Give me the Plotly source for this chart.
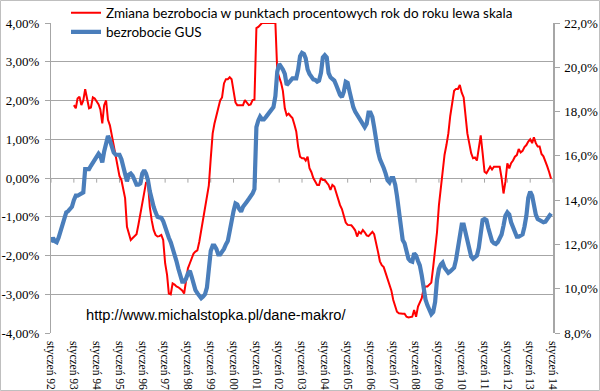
import pandas as pd
import plotly.graph_objects as go

# ---------------- data ----------------
months = pd.date_range("1992-01-01", periods=264, freq="MS")
months_change = months[12:]

# bezrobocie GUS (%), monthly Jan 1992 - Dec 2013 (right axis)
unemp_gus = [
    12.1, 12.3, 12.15, 12.1, 12.3, 12.6, 13.0, 13.3, 13.45, 13.5, 13.6, 13.7,      # 1992
    14.0, 14.2, 14.2, 14.25, 14.3, 14.35, 15.4, 15.4, 15.4, 15.55, 15.7, 15.8,     # 1993
    16.0, 16.1, 16.0, 15.7, 16.2, 16.6, 16.9, 16.7, 16.4, 16.15, 16.05, 16.05,     # 1994
    16.05, 15.85, 15.5, 15.1, 14.85, 15.15, 15.2, 15.1, 14.85, 14.7, 14.7, 14.75,  # 1995
    15.2, 15.35, 15.2, 14.9, 14.4, 14.0, 13.7, 13.45, 13.25, 13.22, 13.2, 13.05,   # 1996
    12.75, 12.5, 12.3, 12.1, 11.85, 11.45, 11.25, 10.9, 10.5, 10.32, 10.32, 10.45, # 1997
    10.7, 10.8, 10.55, 10.2, 9.94, 9.8, 9.7, 9.57, 9.65, 9.75, 10.05, 10.9,        # 1998
    11.7, 11.95, 11.95, 11.8, 11.55, 11.55, 11.67, 11.8, 12.0, 12.15, 12.6, 13.2,  # 1999
    13.5, 13.85, 13.8, 13.6, 13.48, 13.7, 13.85, 13.93, 14.05, 14.15, 14.3, 14.5,  # 2000
    17.3, 17.6, 17.77, 17.65, 17.65, 17.75, 17.85, 17.95, 18.05, 18.2, 18.7, 19.8, # 2001
    20.15, 20.05, 19.9, 19.7, 19.2, 19.3, 19.4, 19.5, 19.5, 19.5, 19.9, 20.5,      # 2002
    20.65, 20.6, 20.4, 19.9, 19.7, 19.6, 19.45, 19.43, 19.35, 19.4, 19.75, 20.45,  # 2003
    20.55, 20.45, 19.75, 19.55, 19.5, 19.4, 19.2, 18.95, 18.75, 18.65, 18.9, 19.35,# 2004
    19.3, 18.9, 18.5, 18.2, 18.0, 17.85, 17.7, 17.6, 17.47, 17.3, 17.45, 17.95,    # 2005
    17.95, 17.75, 17.3, 16.6, 16.2, 15.85, 15.7, 15.45, 15.2, 14.9, 14.8, 15.0,    # 2006
    15.0, 14.7, 14.2, 13.4, 12.7, 12.2, 12.05, 11.65, 11.35, 11.25, 11.22, 11.6,   # 2007
    11.5, 11.25, 11.05, 10.6, 9.9, 9.5, 9.25, 9.0, 8.85, 8.95, 9.4, 10.4,          # 2008
    10.9, 11.1, 11.18, 10.95, 10.8, 10.72, 10.78, 10.85, 10.95, 11.3, 11.9, 12.55, # 2009
    12.9, 12.9, 12.55, 12.05, 11.7, 11.45, 11.35, 11.4, 11.5, 11.85, 12.7, 13.1,   # 2010
    13.15, 13.1, 12.75, 12.45, 12.15, 12.05, 12.02, 12.1, 12.25, 12.45, 12.85, 13.3,  # 2011
    13.45, 13.35, 13.0, 12.75, 12.5, 12.35, 12.35, 12.38, 12.45, 12.8, 13.3, 14.1,    # 2012
    14.38, 14.2, 13.7, 13.35, 13.15, 13.1, 13.02, 13.0, 13.03, 13.15, 13.3, 13.4,     # 2013
]

# Zmiana bezrobocia r/r (pp), monthly Jan 1993 - Dec 2013 (left axis)
change_yoy = [
    1.88, 1.80, 2.05, 2.1, 1.88, 2.0, 2.29, 2.0, 1.8, 1.82, 2.08, 2.05,            # 1993
    1.98, 1.9, 1.77, 1.41, 1.88, 2.0, 1.5, 1.36, 1.1, 0.85, 0.55, 0.28,            # 1994
    0.05, -0.05, -0.28, -0.52, -1.26, -1.45, -1.6, -1.55, -1.51, -1.45, -1.2, -0.95,  # 1995
    -0.7, -0.4, -0.12, -0.12, -0.75, -1.1, -1.34, -1.47, -1.51, -1.5, -1.47, -1.6,    # 1996
    -2.2, -2.5, -2.98, -3.0, -2.72, -2.75, -2.8, -2.82, -2.85, -2.9, -2.98, -2.63,    # 1997
    -2.33, -2.2, -2.05, -1.95, -1.9, -1.87, -1.65, -1.34, -1.05, -0.70, -0.48, -0.2,  # 1998
    0.5, 1.15, 1.4, 1.65, 1.8, 2.0, 2.08, 2.44, 2.55, 2.55, 2.6, 2.55,             # 1999
    2.2, 1.95, 1.88, 1.88, 1.88, 1.88, 2.01, 1.95, 1.88, 1.9, 2.01, 2.02,          # 2000
    3.87, 3.9, 3.95, 4.0, 4.0, 4.0, 4.0, 4.0, 4.0, 4.0, 4.0, 2.75,                 # 2001
    2.6, 2.45, 2.25, 1.8, 1.62, 1.66, 1.6, 1.55, 1.38, 1.2, 0.8, 0.55,             # 2002
    0.51, 0.51, 0.45, 0.55, 0.25, 0.15, 0.0, -0.1, -0.18, -0.18, 0.0, -0.05,       # 2003
    -0.05, -0.12, -0.18, -0.31, -0.18, -0.22, -0.39, -0.55, -0.7, -0.8, -0.95, -1.15, # 2004
    -1.21, -1.21, -1.22, -1.28, -1.35, -1.51, -1.39, -1.43, -1.34, -1.4, -1.48, -1.5, # 2005
    -1.43, -1.39, -1.45, -1.65, -1.9, -2.15, -2.25, -2.3, -2.45, -2.55, -2.72, -2.9,  # 2006
    -3.15, -3.3, -3.45, -3.49, -3.5, -3.5, -3.5, -3.58, -3.6, -3.58, -3.58, -3.41,    # 2007
    -3.58, -3.32, -3.2, -3.1, -2.85, -2.8, -2.8, -2.75, -2.7, -2.3, -1.86, -1.4,      # 2008
    -0.7, -0.2, 0.2, 0.6, 0.85, 1.15, 1.6, 1.9, 2.25, 2.3, 2.3, 2.4,               # 2009
    2.2, 2.08, 1.55, 1.15, 0.9, 0.64, 0.51, 0.53, 0.45, 0.8, 1.1, 0.65,            # 2010
    0.16, 0.12, 0.22, 0.29, 0.22, 0.29, 0.29, 0.29, 0.29, 0.0, -0.4, -0.1,         # 2011
    0.38, 0.25, 0.38, 0.45, 0.55, 0.59, 0.75, 0.66, 0.7, 0.8, 0.85, 0.94,          # 2012
    1.0, 0.9, 1.05, 0.9, 0.81, 0.81, 0.62, 0.56, 0.45, 0.3, 0.15, -0.02,           # 2013
]

left_tickvals = [-4, -3, -2, -1, 0, 1, 2, 3, 4]
left_ticktext = ["-4,00%", "-3,00%", "-2,00%", "-1,00%", "0,00%", "1,00%", "2,00%", "3,00%", "4,00%"]
right_tickvals = [8, 10, 12, 14, 16, 18, 20, 22]
right_ticktext = ["8,0%", "10,0%", "12,0%", "14,0%", "16,0%", "18,0%", "20,0%", "22,0%"]
year_ticks = pd.date_range("1992-01-01", "2014-01-01", freq="YS")
year_labels = ["styczeń %02d" % (y % 100) for y in range(1992, 2015)]

name_red = "Zmiana bezrobocia w punktach procentowych rok do roku lewa skala"
name_blue = "bezrobocie GUS"
source_text = "http://www.michalstopka.pl/dane-makro/"

# ---------------- figure ----------------
W, H = 600, 391
L, R, T, B = 51, 47, 23, 58
pw, ph = W - L - R, H - T - B
grid = "#A6A6A6"
serif = "Liberation Serif, Times New Roman, serif"


def px_x(x):
    return (x - L) / pw


def px_y(y):
    return (T + ph - y) / ph


fig = go.Figure()
fig.add_trace(go.Scatter(x=months_change, y=change_yoy, name=name_red, mode="lines",
                         line=dict(color="#FF0000", width=2), yaxis="y", legend="legend"))
fig.add_trace(go.Scatter(x=months, y=unemp_gus, name=name_blue, mode="lines",
                         line=dict(color="#4A7EBB", width=4.2), yaxis="y2", legend="legend2"))

shapes = []
# small tick marks on the 0 line (category axis crossing)
for d in year_ticks:
    shapes.append(dict(type="line", xref="x", yref="y", x0=d, x1=d, y0=0, y1=-0.12,
                       line=dict(color=grid, width=1), layer="below"))
# chart border
shapes.append(dict(type="rect", xref="paper", yref="paper",
                   x0=px_x(0.5), x1=px_x(W - 0.5), y0=px_y(H - 0.5), y1=px_y(0.5),
                   line=dict(color="#BFBFBF", width=1), fillcolor="rgba(0,0,0,0)"))

legend_font = dict(family="Lato", size=13.5, color="black")

fig.update_layout(
    width=W, height=H,
    margin=dict(l=L, r=R, t=T, b=B, autoexpand=False),
    paper_bgcolor="white", plot_bgcolor="white",
    showlegend=True,
    legend=dict(x=px_x(66), y=px_y(13), xanchor="left", yanchor="middle",
                bgcolor="rgba(0,0,0,0)", font=legend_font, itemwidth=30),
    legend2=dict(x=px_x(66), y=px_y(32), xanchor="left", yanchor="middle",
                 bgcolor="rgba(0,0,0,0)", font=legend_font, itemwidth=30),
    xaxis=dict(type="date", range=[months[0], pd.Timestamp("2014-01-01")],
               tickmode="array", tickvals=year_ticks, ticktext=year_labels,
               tickangle=90, showgrid=False, zeroline=False, showline=False, ticks="",
               ticklabelstandoff=7,
               tickfont=dict(family=serif, size=11.5, color="black")),
    yaxis=dict(range=[-4, 4], tickmode="array", tickvals=left_tickvals, ticktext=left_ticktext,
               showgrid=True, gridcolor=grid, gridwidth=1, zeroline=False,
               showline=True, linecolor=grid, linewidth=1, ticks="outside", ticklen=5, tickcolor=grid,
               ticklabelstandoff=3,
               tickfont=dict(family=serif, size=13, color="black")),
    yaxis2=dict(range=[8, 22], overlaying="y", side="right", tickmode="array",
                tickvals=right_tickvals, ticktext=right_ticktext, showgrid=False, zeroline=False,
                showline=True, linecolor=grid, linewidth=1.5, ticks="outside", ticklen=5, tickcolor=grid,
                ticklabelstandoff=2,
                tickfont=dict(family=serif, size=13, color="black")),
    shapes=shapes,
    annotations=[dict(text=source_text, xref="paper", yref="paper",
                      x=px_x(84), y=px_y(315), xanchor="left", yanchor="middle",
                      showarrow=False, font=dict(family="Liberation Sans, Arial", size=14.7, color="black"))],
)

fig.write_html("out.html", config={"displayModeBar": False},
               post_script="document.body.style.margin='0';")
